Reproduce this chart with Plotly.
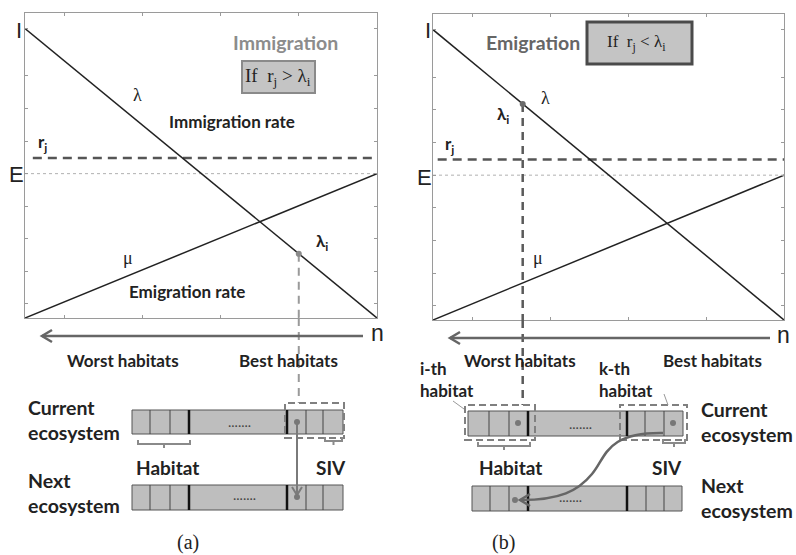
import plotly.graph_objects as go

W, H = 796, 555

# ---------------- data (axis units) ----------------
x_range = [0, 4.5]
y_range = [-0.43, 8.93]
x_ticks = [0.5, 1.5, 2.5, 3.5]
y_ticks = [0, 1, 2, 3, 4, 5, 6, 7, 8.45]
I_level = 8.45
E_level = 4.0
r_j_level = 4.48
lambda_x = [0, 4.5]
lambda_y = [8.45, -0.43]
mu_x = [0, 4.5]
mu_y = [-0.43, 4.0]
lam_i_a = [3.5, 1.54]
lam_i_b = [1.15, 6.18]
rj_x_a = [0.1, 4.5]
rj_x_b = [0.06, 4.5]
E_x = [0, 4.5]

# ---------------- helpers ----------------
def X(p):
    return p / W

def Y(p):
    return 1 - p / H

def P(pts):
    return " ".join(f"{X(x):.5f},{Y(y):.5f}" for x, y in pts)

def path_str(segs):
    s = ""
    for cmd, pts in segs:
        s += cmd + P(pts) + " "
    return s.strip()

SANS = "Lato"
SERIF = "Liberation Serif"
ARIAL = "Liberation Sans"

fig = go.Figure()

dom_a = dict(x=[X(25), X(377)], y=[Y(318), Y(13)])
dom_b = dict(x=[X(433), X(784)], y=[Y(320), Y(14)])

axis_common = dict(showgrid=False, zeroline=False, showline=True, linecolor="#9a9a9a",
                   linewidth=1.2, mirror="ticks", ticks="inside", ticklen=3,
                   tickcolor="#9a9a9a", showticklabels=False, fixedrange=True)

fig.update_layout(
    width=W, height=H, margin=dict(l=0, r=0, t=0, b=0),
    paper_bgcolor="white", plot_bgcolor="white", showlegend=False,
    xaxis=dict(domain=dom_a["x"], range=x_range, tickvals=x_ticks, anchor="y", **axis_common),
    yaxis=dict(domain=dom_a["y"], range=y_range, tickvals=y_ticks, anchor="x", **axis_common),
    xaxis2=dict(domain=dom_b["x"], range=x_range, tickvals=x_ticks, anchor="y2", **axis_common),
    yaxis2=dict(domain=dom_b["y"], range=y_range, tickvals=y_ticks, anchor="x2", **axis_common),
)

for xa, ya, lam_i, rjx, vcol, vw, dotcol in [("x", "y", lam_i_a, rj_x_a, "#9a9a9a", 2, "#8a8a8a"),
                                              ("x2", "y2", lam_i_b, rj_x_b, "#5a5a5a", 2.5, "#6a6a6a")]:
    fig.add_trace(go.Scatter(x=E_x, y=[E_level, E_level], mode="lines", xaxis=xa, yaxis=ya,
                             line=dict(color="#b0b0b0", width=1, dash="dot"), hoverinfo="skip"))
    fig.add_trace(go.Scatter(x=rjx, y=[r_j_level, r_j_level], mode="lines", xaxis=xa, yaxis=ya,
                             line=dict(color="#555555", width=2.5, dash="9px,6px"), hoverinfo="skip"))
    fig.add_trace(go.Scatter(x=[lam_i[0], lam_i[0]], y=[lam_i[1], y_range[0]], mode="lines",
                             xaxis=xa, yaxis=ya,
                             line=dict(color=vcol, width=vw, dash="8px,6px"), hoverinfo="skip"))
    fig.add_trace(go.Scatter(x=lambda_x, y=lambda_y, mode="lines", xaxis=xa, yaxis=ya,
                             line=dict(color="#222222", width=1.5), hoverinfo="skip"))
    fig.add_trace(go.Scatter(x=mu_x, y=mu_y, mode="lines", xaxis=xa, yaxis=ya,
                             line=dict(color="#222222", width=1.5), hoverinfo="skip"))
    fig.add_trace(go.Scatter(x=[lam_i[0]], y=[lam_i[1]], mode="markers", xaxis=xa, yaxis=ya,
                             marker=dict(color=dotcol, size=6), hoverinfo="skip"))

shapes = []

# vertical dashed continuation below axes
shapes.append(dict(type="line", xref="x", yref="paper", x0=lam_i_a[0], x1=lam_i_a[0],
                   y0=Y(318), y1=Y(403), line=dict(color="#9a9a9a", width=2, dash="8px,6px")))
shapes.append(dict(type="line", xref="x2", yref="paper", x0=lam_i_b[0], x1=lam_i_b[0],
                   y0=Y(320), y1=Y(405), line=dict(color="#5a5a5a", width=2.5, dash="8px,6px")))

# condition boxes
shapes.append(dict(type="rect", xref="paper", yref="paper", x0=X(242), x1=X(315), y0=Y(93), y1=Y(61),
                   fillcolor="#c4c4c4", line=dict(color="#8a8a8a", width=2)))
shapes.append(dict(type="rect", xref="paper", yref="paper", x0=X(587), x1=X(692), y0=Y(64), y1=Y(22),
                   fillcolor="#c4c4c4", line=dict(color="#4a4a4a", width=3)))

def chevron(tip, back, half):
    tx, ty = tip
    bx, by = back
    if ty == by:
        return [("M", [(bx, ty - half)]), ("L", [(tx, ty)]), ("L", [(bx, ty + half)])]
    else:
        return [("M", [(tx - half, by)]), ("L", [(tx, ty)]), ("L", [(tx + half, by)])]

# arrows under axes
for (x0, x1, yy) in [(363, 42, 336), (770, 450, 338)]:
    shapes.append(dict(type="line", xref="paper", yref="paper", x0=X(x0), x1=X(x1), y0=Y(yy), y1=Y(yy),
                       line=dict(color="#666666", width=2.5)))
    shapes.append(dict(type="path", xref="paper", yref="paper",
                       path=path_str(chevron((x1, yy), (x1 + 10, yy), 6)),
                       line=dict(color="#666666", width=2.5)))

# ecosystem bars
bars = [
    (132, 343, 410, 434, [150, 170, 306, 323], [189, 287]),
    (132, 343, 485, 510, [150, 170, 306, 323], [189, 287]),
    (468, 683, 411, 436, [489, 509, 645, 664], [528, 627]),
    (472, 682, 486, 511, [490, 509, 646, 664], [528, 627]),
]
for x0, x1, y0, y1, thin, thick in bars:
    shapes.append(dict(type="rect", xref="paper", yref="paper", x0=X(x0), x1=X(x1), y0=Y(y1), y1=Y(y0),
                       fillcolor="#bebebe", line=dict(color="#555555", width=1)))
    for t in thin:
        shapes.append(dict(type="line", xref="paper", yref="paper", x0=X(t), x1=X(t), y0=Y(y1), y1=Y(y0),
                           line=dict(color="#444444", width=1)))
    for t in thick:
        shapes.append(dict(type="line", xref="paper", yref="paper", x0=X(t), x1=X(t), y0=Y(y1), y1=Y(y0),
                           line=dict(color="#111111", width=2.5)))

# dashed selection boxes
for x0, x1, y0, y1 in [(285, 344, 403, 438), (465, 535, 405, 440), (620, 687, 405, 440)]:
    shapes.append(dict(type="rect", xref="paper", yref="paper", x0=X(x0), x1=X(x1), y0=Y(y1), y1=Y(y0),
                       line=dict(color="#808080", width=2, dash="7px,4px")))

# braces
for x0, x1, yb in [(138, 190, 444), (325, 342, 441), (478, 530, 446), (663, 685, 443)]:
    xm = (x0 + x1) / 2
    shapes.append(dict(type="path", xref="paper", yref="paper",
                       path=path_str([("M", [(x0, yb - 4)]), ("L", [(x0, yb)]), ("L", [(x1, yb)]),
                                      ("L", [(x1, yb - 4)]), ("M", [(xm, yb)]), ("L", [(xm, yb + 4)])]),
                       line=dict(color="#8a8a8a", width=2)))

# (a) vertical transfer arrow
shapes.append(dict(type="line", xref="paper", yref="paper", x0=X(297), x1=X(297), y0=Y(422), y1=Y(495),
                   line=dict(color="#7a7a7a", width=2)))
shapes.append(dict(type="path", xref="paper", yref="paper",
                   path=path_str(chevron((297, 495), (297, 487), 5)),
                   line=dict(color="#7a7a7a", width=2)))

# (b) curved transfer arrow
shapes.append(dict(type="path", xref="paper", yref="paper",
                   path=path_str([("M", [(663, 433)]),
                                  ("C", [(605, 432), (606, 458), (592, 474)]),
                                  ("C", [(578, 491), (560, 500), (521, 500)])]),
                   line=dict(color="#666666", width=2.5)))
shapes.append(dict(type="path", xref="paper", yref="paper",
                   path=path_str([("M", [(530, 494)]), ("L", [(520, 500)]), ("L", [(530, 506)])]),
                   line=dict(color="#666666", width=2.5)))

# small pointer arrows (b)
for (bx, by), (tx, ty) in [((453, 401), (464, 409)), ((664, 394), (668, 405))]:
    shapes.append(dict(type="line", xref="paper", yref="paper", x0=X(bx), x1=X(tx), y0=Y(by), y1=Y(ty),
                       line=dict(color="#999999", width=1)))

# dots in cells
for cx, cy in [(297, 422), (297, 497), (518, 423), (673, 423), (515, 500)]:
    shapes.append(dict(type="circle", xref="paper", yref="paper", x0=X(cx - 3), x1=X(cx + 3),
                       y0=Y(cy + 3), y1=Y(cy - 3), fillcolor="#777777", line=dict(width=0)))

fig.update_layout(shapes=shapes)

ann = []
def A(text, x, y, size, color="#222222", family=SANS, xanchor="center"):
    ann.append(dict(text=text, x=X(x), y=Y(y), xref="paper", yref="paper", showarrow=False,
                    xanchor=xanchor, yanchor="middle", align=xanchor if xanchor != "center" else "center",
                    font=dict(size=size, color=color, family=family)))

# panel (a)
A("I", 19, 30, 22, family=ARIAL)
A("E", 16, 174, 22, family=ARIAL)
A("n", 377, 333, 23, family=ARIAL)
A("λ", 137, 95, 18, family=SERIF)
A("μ", 128, 258, 18, family=SERIF)
A("<b>Immigration</b>", 285, 42, 19.5, color="#8c8c8c")
A("If  r<sub>j</sub> > λ<sub>i</sub>", 278, 77, 19, family=SERIF)
A("<b>Immigration rate</b>", 232, 122, 17)
A("<b>r<sub>j</sub></b>", 42, 143, 17)
A("<b>λ<sub>i</sub></b>", 322, 242, 17)
A("<b>Emigration rate</b>", 187, 291, 17)
A("<b>Worst habitats</b>", 123, 360, 17)
A("<b>Best habitats</b>", 288, 360, 17)
A("<b>Current<br>ecosystem</b>", 26, 420, 19.5, xanchor="left")
A("<b>Next<br>ecosystem</b>", 26, 493, 19.5, xanchor="left")
A("<b>Habitat</b>", 167, 467, 19)
A("<b>SIV</b>", 331, 467, 19)
A(".......", 240, 421, 14, color="#444444")
A(".......", 245, 494, 14, color="#444444")
A("(a)", 188, 542, 20, family=SERIF)

# panel (b)
A("I", 428, 31, 22, family=ARIAL)
A("E", 424, 177, 22, family=ARIAL)
A("n", 783, 335, 23, family=ARIAL)
A("<b>Emigration</b>", 533, 43, 19.5, color="#666666")
A("If  r<sub>j</sub> < λ<sub>i</sub>", 636, 43, 17, family=SERIF)
A("λ", 545, 98, 18, family=SERIF)
A("<b>λ<sub>i</sub></b>", 503, 115, 17)
A("<b>r<sub>j</sub></b>", 450, 145, 17)
A("μ", 538, 258, 18, family=SERIF)
A("<b>Worst habitats</b>", 520, 360, 17)
A("<b>Best habitats</b>", 712, 360, 17)
A("<b>i-th<br>habitat</b>", 418, 379, 17, xanchor="left")
A("<b>k-th<br>habitat</b>", 597, 379, 17, xanchor="left")
A("<b>Current<br>ecosystem</b>", 699, 422, 19.5, xanchor="left")
A("<b>Next<br>ecosystem</b>", 699, 498, 19.5, xanchor="left")
A("<b>Habitat</b>", 510, 467, 19)
A("<b>SIV</b>", 667, 467, 19)
A(".......", 580, 423, 14, color="#444444")
A(".......", 570, 496, 14, color="#444444")
A("(b)", 503, 542, 20, family=SERIF)

fig.update_layout(annotations=ann)
fig.write_html("out.html", config={"displayModeBar": False, "staticPlot": True},
               post_script="document.body.style.margin='0px';document.body.style.padding='0px';")
